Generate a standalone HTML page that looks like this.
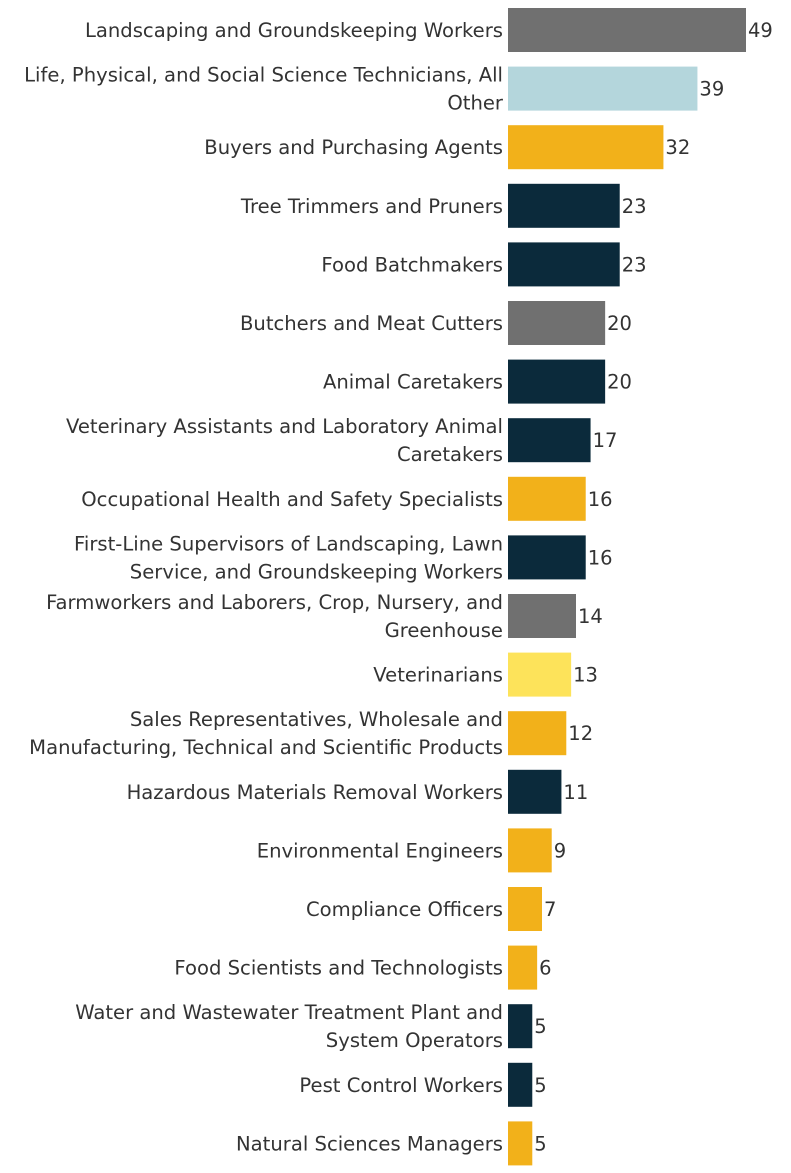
<!DOCTYPE html>
<html><head><meta charset="utf-8">
<style>
body{margin:0;background:#fff;width:791px;height:1173px;overflow:hidden;font-family:"DejaVu Sans","Liberation Sans",sans-serif;}
svg{display:block}
</style></head><body>
<svg id="chart" width="791" height="1173" xmlns="http://www.w3.org/2000/svg"></svg>
<script>
const categories=[
["Landscaping and Groundskeeping Workers"],
["Life, Physical, and Social Science Technicians, All","Other"],
["Buyers and Purchasing Agents"],
["Tree Trimmers and Pruners"],
["Food Batchmakers"],
["Butchers and Meat Cutters"],
["Animal Caretakers"],
["Veterinary Assistants and Laboratory Animal","Caretakers"],
["Occupational Health and Safety Specialists"],
["First-Line Supervisors of Landscaping, Lawn","Service, and Groundskeeping Workers"],
["Farmworkers and Laborers, Crop, Nursery, and","Greenhouse"],
["Veterinarians"],
["Sales Representatives, Wholesale and","Manufacturing, Technical and Scientific Products"],
["Hazardous Materials Removal Workers"],
["Environmental Engineers"],
["Compliance Officers"],
["Food Scientists and Technologists"],
["Water and Wastewater Treatment Plant and","System Operators"],
["Pest Control Workers"],
["Natural Sciences Managers"]];
const values=[49,39,32,23,23,20,20,17,16,16,14,13,12,11,9,7,6,5,5,5];
const groups=["gray","blue","orange","navy","navy","gray","navy","navy","orange","navy","gray","yellow","orange","navy","orange","orange","orange","navy","navy","orange"];
const palette={gray:"#707070",blue:"#b4d6dc",orange:"#f2b11a",navy:"#0b2a3b",yellow:"#fde35a"};
const svg=document.getElementById('chart');
const NS="http://www.w3.org/2000/svg";
const x0=508, pxPerUnit=238/49;
const xScale=v=>v*pxPerUnit;
const rowTop=8, rowStep=58.6, barH=44;
const yScale=i=>rowTop+i*rowStep;
values.forEach((v,i)=>{
  const y=yScale(i);
  const r=document.createElementNS(NS,'rect');
  r.setAttribute('x',x0);r.setAttribute('y',y);r.setAttribute('width',xScale(v));r.setAttribute('height',barH);
  r.setAttribute('fill',palette[groups[i]]);
  
  
  svg.appendChild(r);
  const t=document.createElementNS(NS,'text');
  t.setAttribute('x',x0+xScale(v)+2);t.setAttribute('y',y+barH/2+7);
  t.setAttribute('font-size','19.5');t.setAttribute('fill','#333');
  t.textContent=v;
  
  
  svg.appendChild(t);
  const lines=categories[i];
  const lab=document.createElementNS(NS,'text');
  lab.setAttribute('text-anchor','end');lab.setAttribute('font-size','19.6');lab.setAttribute('fill','#333');
  
  
  const cy=y+barH/2+7;
  lines.forEach((ln,j)=>{
    const ts=document.createElementNS(NS,'tspan');
    ts.setAttribute('x',503);
    ts.setAttribute('y',lines.length===1?cy:cy-14+j*28);
    ts.textContent=ln;
    lab.appendChild(ts);
  });
  svg.appendChild(lab);
});
</script>
</body></html>
